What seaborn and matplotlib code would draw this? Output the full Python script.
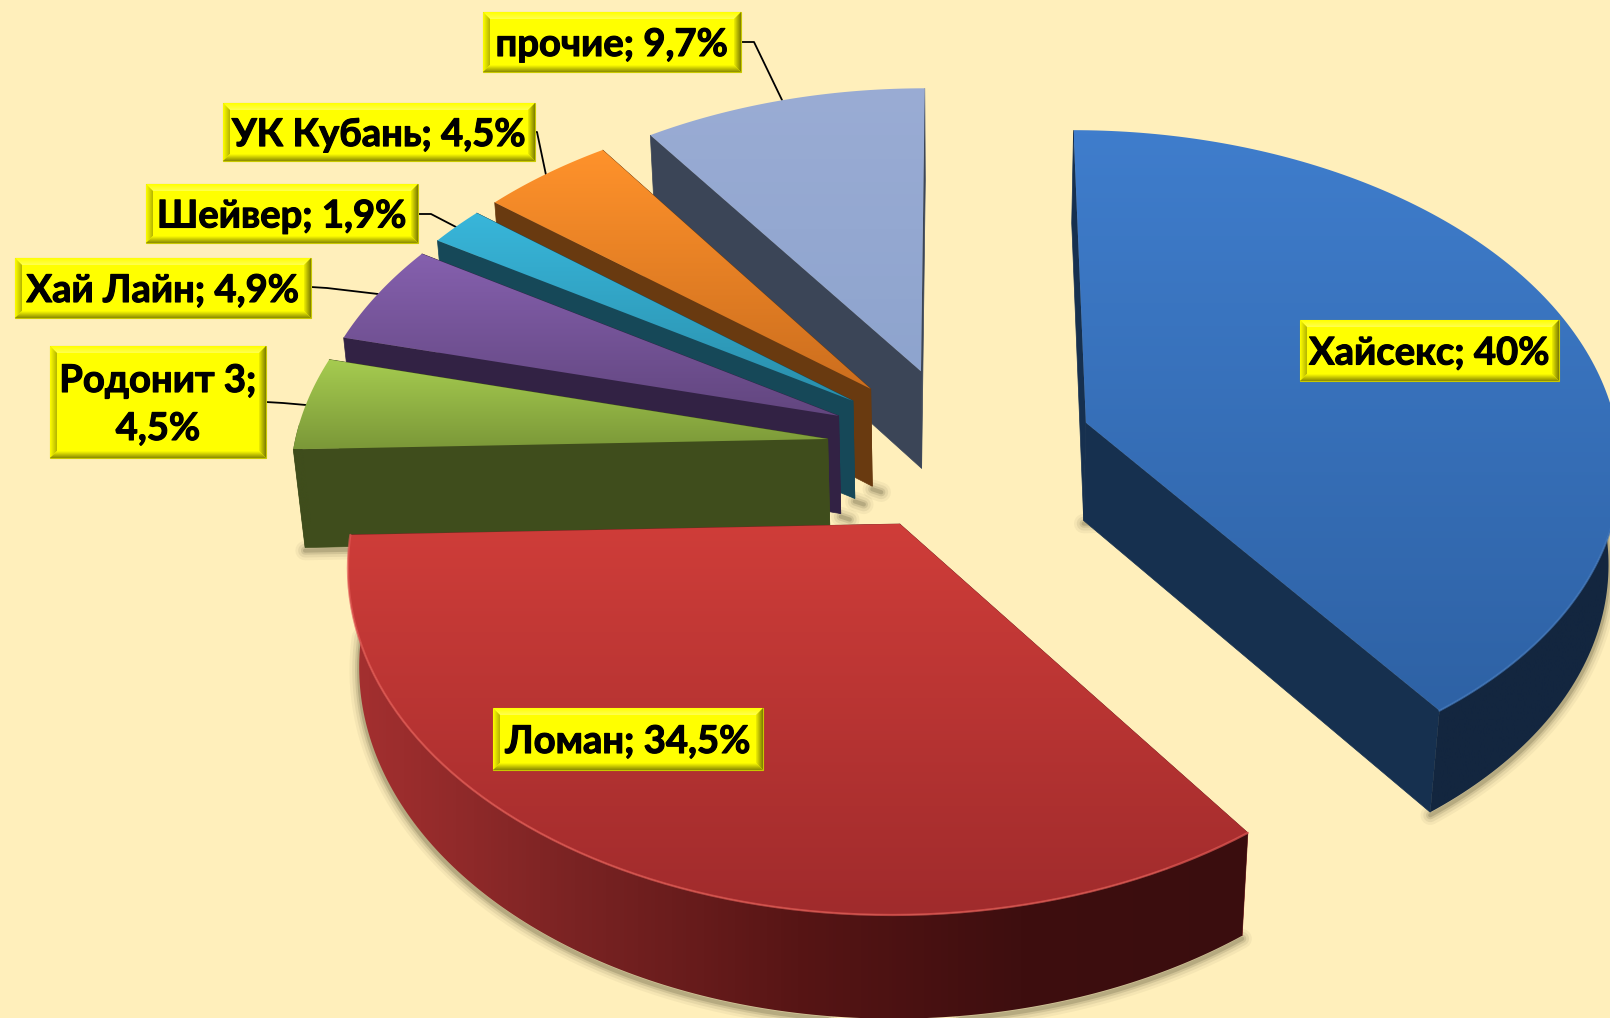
import numpy as np
import matplotlib
matplotlib.use('Agg')
import matplotlib.pyplot as plt
import matplotlib.patheffects as pe
from matplotlib.patches import Polygon
import seaborn as sns

# shares in chart order, clockwise from 12 o'clock
names = ['Хайсекс', 'Ломан', 'Родонит 3', 'Хай Лайн', 'Шейвер', 'УК Кубань', 'прочие']
shares = [40, 34.5, 4.5, 4.9, 1.9, 4.5, 9.7]
share_text = ['40%', '34,5%', '4,5%', '4,9%', '1,9%', '4,5%', '9,7%']

top_light = ['#3F7DCC', '#CF3D39', '#A6CC50', '#8560AE', '#38B6DA', '#FF922B', '#9AACD4']
top_dark = ['#2E62A5', '#A02B2C', '#7B9838', '#62467F', '#2A8FAC', '#CC6E1E', '#8EA4CE']
cut_col = ['#16304F', '#7A2222', '#3F4D1C', '#322244', '#164858', '#693A10', '#3B4557']
rim_cols = [['#13263F', '#13263F'],
            ['#A53030', '#7A2323', '#571515', '#3E0E0F', '#3A0D0E'],
            ['#3F4D1C', '#3F4D1C'], ['#322244', '#322244'], ['#164858', '#164858'],
            ['#693A10', '#693A10'], ['#3B4557', '#3B4557']]
edge_cols = ['#3F76BC', '#E25A55', None, None, None, None, None]

# boxes: left, top, right, bottom, px
boxes = [(1300, 320, 1559, 381), (493, 708, 763, 770), (50, 346, 266, 458), (15, 258, 311, 318),
         (146, 184, 418, 243), (223, 103, 535, 161), (483, 12, 741, 72)]
leaders = [None, None,
           [(266, 402), (283, 403), (306, 405)],
           [(311, 287), (327, 288), (378, 294)],
           [(418, 214), (431, 214), (456, 227)],
           [(535, 132), (537, 132), (546, 175)],
           [(741, 42), (754, 42), (782, 100)]]

# projection settings
cx, cy = 960, 448
fx, fy, fz = 534, 330, 100
persp, persp_z = 0.11, 0.018
explode = 0.25

sns.set_theme(style='white')
plt.rcParams['font.family'] = ['Lato', 'Noto Sans', 'DejaVu Sans']

fig = plt.figure(figsize=(16.1, 10.18), dpi=100, facecolor='#FFEFBB')
ax = fig.add_axes([0, 0, 1, 1])
ax.set_facecolor('#FFEFBB')
ax.axis('off')


def project(X, Y, Z):
    d = 1 + persp * Y - persp_z * Z
    return np.column_stack([cx + fx * X / d, cy - fy * Y / d - fz * Z / d])


def grad_fill(pts, colors, horizontal=False, zorder=2):
    pts = np.asarray(pts, dtype=float)
    cmap = sns.blend_palette(colors, n_colors=64, as_cmap=True)
    x0, y0 = pts.min(axis=0)
    x1, y1 = pts.max(axis=0)
    g = np.linspace(0, 1, 128)
    g = g[None, :] if horizontal else g[:, None]
    im = ax.imshow(g, cmap=cmap, extent=(x0, x1, y1, y0), aspect='auto', origin='upper',
                   interpolation='bilinear', zorder=zorder)
    p = Polygon(pts, closed=True, transform=ax.transData, fc='none', ec='none')
    ax.add_patch(p)
    im.set_clip_path(p)


def wedge(i, a0, a1, z):
    mid = (a0 + a1) / 2
    ex, ey = explode * np.sin(mid), explode * np.cos(mid)
    t = np.linspace(a0, a1, 160)
    arc_top = project(ex + np.sin(t), ey + np.cos(t), 0 * t)
    arc_bot = project(ex + np.sin(t), ey + np.cos(t), 0 * t - 1)
    apex_top = project(np.array([ex]), np.array([ey]), np.array([0.0]))
    apex_bot = project(np.array([ex]), np.array([ey]), np.array([-1.0]))
    front = np.cos(t) < 0.05

    # soft drop shadow, only where the reference shows one
    outline = None
    if i == 0:
        outline = np.vstack([apex_bot, arc_bot[front]])
    elif i == 1:
        outline = arc_bot[front]
    elif i == 2:
        outline = np.vstack([arc_bot[:1], apex_bot])
    elif i in (3, 4, 5):
        outline = np.vstack([apex_bot, apex_bot + [9, 3]])
    if outline is not None:
        for lw, al in zip((14, 10, 6, 3), (0.05, 0.08, 0.12, 0.18)):
            ax.plot(outline[:, 0], outline[:, 1] + 3, color='#3C3A20', lw=lw, alpha=al,
                    solid_capstyle='round', zorder=1)

    # cut faces first, they sit under everything else
    for k in (0, -1):
        face = np.vstack([apex_top, arc_top[k], arc_bot[k], apex_bot])
        ax.add_patch(Polygon(face, closed=True, fc=cut_col[i], ec=cut_col[i], lw=0.5, zorder=z))

    # outer rim, only the part facing the viewer
    if front.sum() > 1:
        rim = np.vstack([arc_top[front], arc_bot[front][::-1]])
        grad_fill(rim, rim_cols[i], horizontal=True, zorder=z + 0.1)

    top = np.vstack([apex_top, arc_top])
    grad_fill(top, [top_light[i], top_dark[i]], zorder=z + 0.2)
    if edge_cols[i] and front.sum() > 1:
        ax.plot(*arc_top[front].T, color=edge_cols[i], lw=1.6, alpha=0.7, zorder=z + 0.3)


def bevel_box(l, t, r, b, z=10, w=7):
    ax.add_patch(Polygon([(l, t), (r, t), (r, b), (l, b)], fc='#FFFF00', ec='#C8C800', lw=0.8, zorder=z))
    grad_fill([(l, t), (r, t), (r - w, t + w), (l + w, t + w)], ['#FFFF00', '#FFFF50'], zorder=z + 0.1)
    grad_fill([(l, t), (l + w, t + w), (l + w, b - w), (l, b)], ['#FFFF00', '#B4B400'], horizontal=True, zorder=z + 0.1)
    grad_fill([(r, t), (r, b), (r - w, b - w), (r - w, t + w)], ['#F0F000', '#7C7C00'], horizontal=True, zorder=z + 0.1)
    grad_fill([(l, b), (r, b), (r - w, b - w), (l + w, b - w)], ['#FFFF00', '#8A8A00'], zorder=z + 0.1)


edges = np.radians(np.cumsum([0] + shares) * 360 / sum(shares))
order = [6, 5, 4, 3, 2, 0, 1]
for n, i in enumerate(order):
    wedge(i, edges[i], edges[i + 1], 2 + n)

for i, name in enumerate(names):
    l, t, r, b = boxes[i]
    bevel_box(l, t, r, b)
    sep = '\n' if name == 'Родонит 3' else ' '
    txt = ax.text((l + r) / 2, (t + b) / 2 + 3, f'{name};{sep}{share_text[i]}', ha='center', va='center',
                  fontsize=27.5, fontweight='bold', color='black', linespacing=1.5, zorder=11)
    txt.set_path_effects([pe.withStroke(linewidth=0.8, foreground='black')])
    if leaders[i]:
        ax.plot(*zip(*leaders[i]), color='black', lw=1.3, zorder=1.5)

ax.set_xlim(0, 1610)
ax.set_ylim(1018, 0)
fig.savefig('out.png', dpi=100, facecolor=fig.get_facecolor())
